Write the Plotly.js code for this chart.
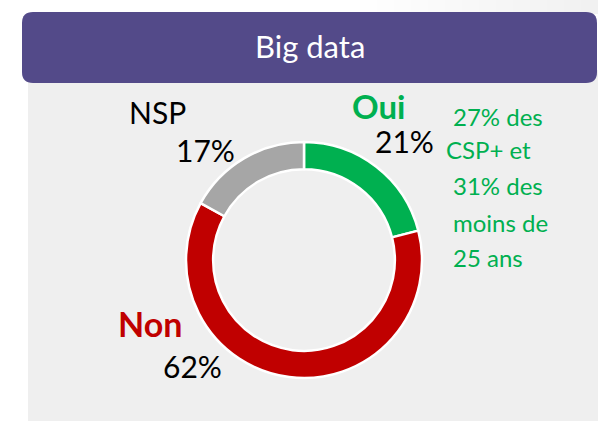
<!DOCTYPE html>
<html>
<head>
<meta charset="utf-8">
<script src="https://cdn.plot.ly/plotly-3.0.1.min.js"></script>
<style>
  html, body { margin: 0; padding: 0; background: #ffffff; }
  #chart { width: 598px; height: 421px; }
</style>
</head>
<body>
<div id="chart"></div>
<script>
// ---- data ----
const chartTitle = 'Big data';
const categories = ['Oui', 'Non', 'NSP'];
const values = [21, 62, 17];
const sliceColors = ['#00b050', '#c00000', '#a6a6a6'];
const noteLines = ['27% des', 'CSP+ et', '31% des', 'moins de', '25 ans'];

// ---- helpers (pixel -> paper) ----
const W = 598, H = 421;
const px = x => x / W;
const py = y => 1 - y / H;

const FONT = 'Lato, "Open Sans", "DejaVu Sans", sans-serif';

const trace = {
  type: 'pie',
  labels: categories,
  values: values,
  marker: { colors: sliceColors, line: { color: '#ffffff', width: 2.5 } },
  hole: 0.77,
  sort: false,
  direction: 'clockwise',
  rotation: 0,
  textinfo: 'none',
  hoverinfo: 'none',
  showlegend: false,
  domain: { x: [px(304 - 118), px(304 + 118)], y: [py(378), py(142)] }
};

function ann(text, x, y, size, color, bold, anchor) {
  return {
    xref: 'paper', yref: 'paper', x: px(x), y: py(y),
    xanchor: anchor || 'left', yanchor: 'middle',
    text: bold ? '<b>' + text + '</b>' : text,
    showarrow: false,
    font: { family: FONT, size: size, color: color }
  };
}

const annotations = [
  ann(chartTitle, 310, 46, 31, '#ffffff', false, 'center'),
  ann(categories[2], 127, 112, 30, '#000000', false),
  ann(values[2] + '%', 174, 150, 30, '#000000', false),
  ann(categories[0], 350, 106, 33, sliceColors[0], true),
  ann(values[0] + '%', 373, 141, 30, '#000000', false),
  ann(categories[1], 116, 323, 34, sliceColors[1], true),
  ann(values[1] + '%', 161, 366, 30, '#000000', false)
];
const noteX = [451, 444, 451, 451, 451];
const noteY = [116, 149, 186, 222, 257];
noteLines.forEach((t, i) => annotations.push(ann(t, noteX[i], noteY[i], 24, sliceColors[0], false)));

const shapes = [
  // light panel
  { type: 'rect', xref: 'paper', yref: 'paper', x0: px(28), x1: px(598), y0: py(421), y1: py(70),
    fillcolor: '#efefef', line: { width: 0 }, layer: 'below' }
];
// soft shadow at top-right (stepped gradient)
const steps = 14;
for (let i = 0; i < steps; i++) {
  const x0 = 360 + i * (238 / steps);
  shapes.push({ type: 'rect', xref: 'paper', yref: 'paper', x0: px(x0), x1: px(598), y0: py(14), y1: py(0),
    fillcolor: '#d8d8d8', opacity: 0.035, line: { width: 0 }, layer: 'below' });
}
// header bar (rounded rectangle)
shapes.push((function () {
  const l = 22, r = 597, t = 12, b = 83, rad = 11;
  const X = v => px(v), Y = v => py(v);
  const path = `M ${X(l + rad)} ${Y(t)} L ${X(r - rad)} ${Y(t)} Q ${X(r)} ${Y(t)} ${X(r)} ${Y(t + rad)} ` +
    `L ${X(r)} ${Y(b - rad)} Q ${X(r)} ${Y(b)} ${X(r - rad)} ${Y(b)} L ${X(l + rad)} ${Y(b)} ` +
    `Q ${X(l)} ${Y(b)} ${X(l)} ${Y(b - rad)} L ${X(l)} ${Y(t + rad)} Q ${X(l)} ${Y(t)} ${X(l + rad)} ${Y(t)} Z`;
  return { type: 'path', xref: 'paper', yref: 'paper', path: path, fillcolor: '#534a89', line: { width: 0 }, layer: 'below' };
})());

const layout = {
  width: W, height: H,
  margin: { l: 0, r: 0, t: 0, b: 0 },
  paper_bgcolor: '#ffffff',
  plot_bgcolor: 'rgba(0,0,0,0)',
  showlegend: false,
  shapes: shapes,
  annotations: annotations
};

Plotly.newPlot('chart', [trace], layout, { displayModeBar: false, staticPlot: true });
</script>
</body>
</html>
